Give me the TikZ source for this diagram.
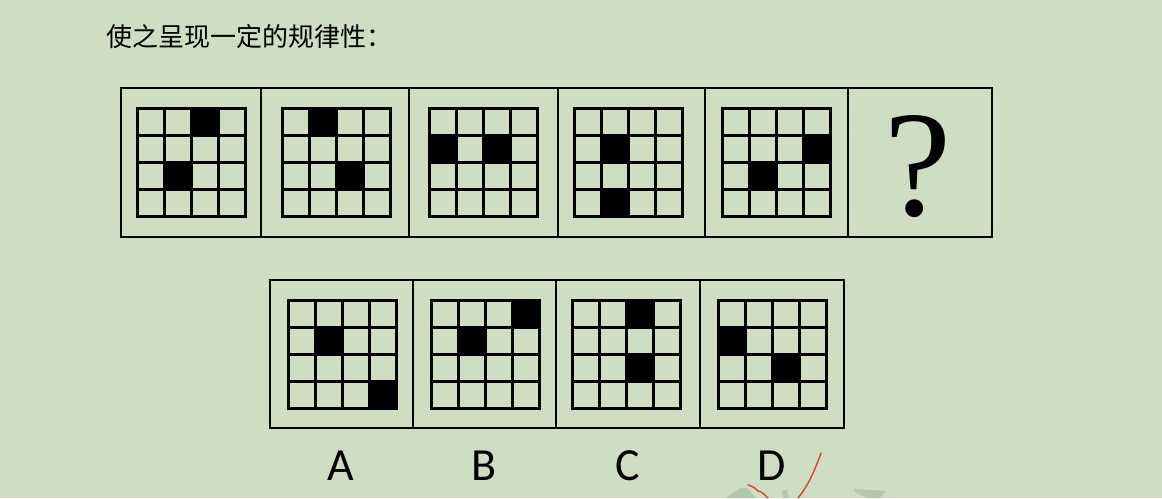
\documentclass[tikz,border=0pt]{standalone}
\usepackage{fontspec}
\newfontfamily\cjk{Noto Sans CJK SC}
\newfontfamily\labfont{Carlito}
\newfontfamily\qfont{Liberation Serif}
\definecolor{bg}{RGB}{206,222,195}
\definecolor{inkred}{RGB}{214,64,56}
\definecolor{wmark}{RGB}{182,198,172}
\tikzset{
  framebox/.style={draw=black, line width=2.3pt},
  gridline/.style={draw=black, line width=3pt},
  blackcell/.style={fill=black},
  choicelabel/.style={font=\labfont\fontsize{46}{46}\selectfont, anchor=base, inner sep=0pt},
  redink/.style={draw=inkred, line width=1.4pt, line cap=round},
}
\newcommand{\puzgrid}[3]{%
  \begin{scope}[shift={(#1,#2)}]
    \foreach \r/\c in {#3} {\fill[blackcell] (\c*27,\r*27) rectangle ++(27,27);}
    \foreach \i in {27,54,81} {\draw[gridline] (\i,0) -- (\i,108); \draw[gridline] (0,\i) -- (108,\i);}
    \draw[gridline] (0,0) rectangle (108,108);
  \end{scope}}
\begin{document}
\begin{tikzpicture}[x=1pt,y=-1pt]
\fill[bg] (0,0) rectangle (1162,498);
\useasboundingbox (0,0) rectangle (1162,498);
% title
\node[anchor=base west, inner sep=0pt, font=\cjk\fontsize{26}{26}\selectfont] (title) at (106,46) {使之呈现一定的规律性：};
% top row frame
\draw[framebox] (121,88) rectangle (992,237);
\foreach \x in {261,409,558,705,848} {\draw[framebox] (\x,88) -- (\x,237);}
\puzgrid{137}{108}{0/2,2/1}
\puzgrid{282}{108}{0/1,2/2}
\puzgrid{429}{108}{1/0,1/2}
\puzgrid{574}{108}{1/1,3/1}
\puzgrid{722}{108}{1/3,2/1}
\node[anchor=base, inner sep=0pt, font=\qfont\fontsize{151}{151}\selectfont] (qmark) at (918,215) {?};
% bottom row frame
\draw[framebox] (270,280) rectangle (844,428);
\foreach \x in {413,556,700} {\draw[framebox] (\x,280) -- (\x,428);}
\puzgrid{288}{300}{1/1,3/3}
\puzgrid{431}{300}{0/3,1/1}
\puzgrid{572}{300}{0/2,2/2}
\puzgrid{718}{300}{1/0,2/2}
\node[choicelabel] (la) at (341,480) {A};
\node[choicelabel] (lb) at (484,480) {B};
\node[choicelabel] (lc) at (628,480) {C};
\node[choicelabel] (ld) at (772,480) {D};
% faint watermark pieces
\fill[wmark] (726,498) -- (740,488) -- (747,488) -- (756,498) -- cycle;
\fill[wmark] (782,490) -- (787,490) -- (789,498) -- (783,498) -- cycle;
\fill[wmark] (854,489) -- (886,491) -- (880,498) -- (868,498) -- (856,493) -- cycle;
% red pen strokes
\draw[redink] (748,485) .. controls (755,486) and (757,492) .. (761,492) .. controls (764,493) and (765,496) .. (768,498);
\draw[redink] (821,453) .. controls (815,470) and (808,486) .. (798,498);
\end{tikzpicture}
\end{document}
